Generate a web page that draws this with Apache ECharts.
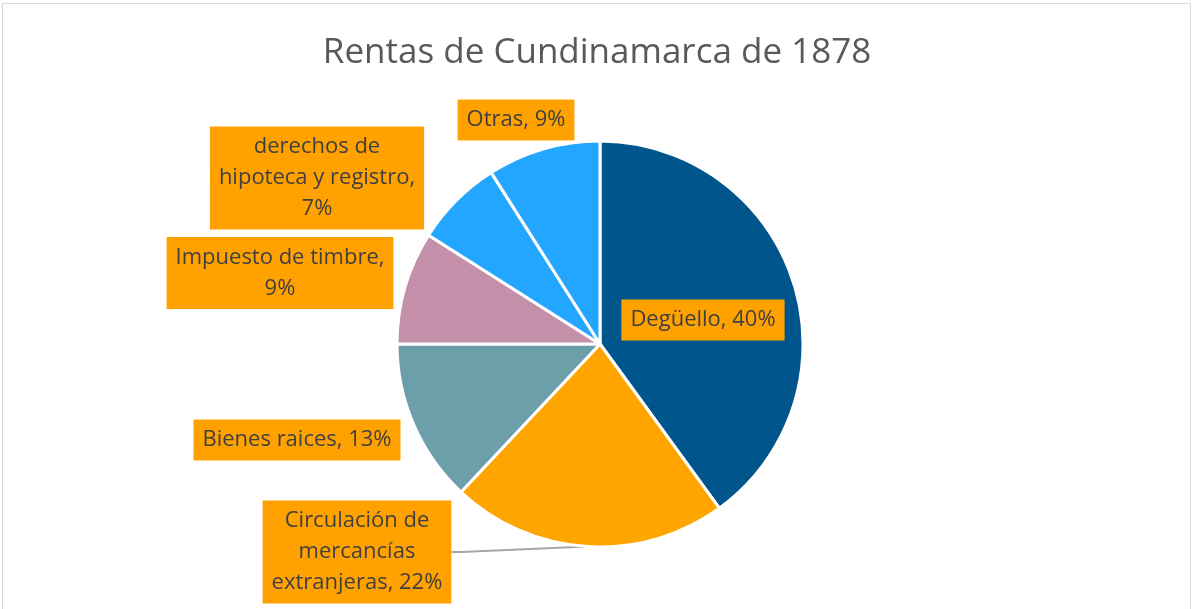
<!DOCTYPE html>
<html>
<head>
<meta charset="utf-8">
<script src="https://cdn.jsdelivr.net/npm/echarts@6/dist/echarts.min.js"></script>
<style>
  html, body { margin: 0; padding: 0; background: #fff; }
  #frame {
    position: absolute; left: 2px; top: 3px; width: 1189px; height: 620px;
    border: 1px solid #d9d9d9; box-sizing: border-box;
  }
  #chart { position: absolute; left: 0; top: 0; width: 1194px; height: 609px; }
</style>
</head>
<body>
<div id="frame"></div>
<div id="chart"></div>
<script>
// data
const categories = [
  "Degüello",
  "Circulación de mercancías extranjeras",
  "Bienes raices",
  "Impuesto de timbre",
  "derechos de hipoteca y registro",
  "Otras"
];
const shares = [40, 22, 13, 9, 7, 9];
const labelText = [
  "Degüello, 40%",
  "Circulación de\nmercancías\nextranjeras, 22%",
  "Bienes raices, 13%",
  "Impuesto de timbre,\n9%",
  "derechos de\nhipoteca y registro,\n7%",
  "Otras, 9%"
];
const sliceColors = ["#00568c", "#ffa500", "#6d9fab", "#c38fa9", "#22a6ff", "#22a6ff"];

// where Excel placed each label box (centre, px)
const labelSpots = [
  [703, 320],
  [357, 552],
  [297, 440],
  [280, 273],
  [317, 178],
  [516, 120]
];

const chart = echarts.init(document.getElementById("chart"));

chart.setOption({
  backgroundColor: "transparent",
  animation: false,
  title: {
    text: "Rentas de Cundinamarca de 1878",
    left: "center",
    top: 31,
    textStyle: {
      fontFamily: "Open Sans",
      fontSize: 35,
      fontWeight: "normal",
      color: "#595959"
    }
  },
  series: [
    {
      type: "pie",
      center: [600, 344],
      radius: 203,
      startAngle: 90,
      clockwise: true,
      data: categories.map((name, i) => ({
        name,
        value: shares[i],
        itemStyle: { color: sliceColors[i] },
        labelLine: { show: i === 1 }
      })),
      itemStyle: {
        borderColor: "#ffffff",
        borderWidth: 3
      },
      label: {
        show: true,
        formatter: (p) => labelText[p.dataIndex],
        fontFamily: "Open Sans",
        fontSize: 22,
        lineHeight: 31,
        color: "#404040",
        align: "center",
        backgroundColor: "#ffa200",
        padding: [5, 9]
      },
      labelLine: {
        lineStyle: { color: "#a6a6a6", width: 2 },
        length: 10,
        length2: 10
      },
      labelLayout: (params) => ({
        x: labelSpots[params.dataIndex][0],
        y: labelSpots[params.dataIndex][1],
        align: "center",
        verticalAlign: "middle"
      })
    }
  ]
});
</script>
</body>
</html>
